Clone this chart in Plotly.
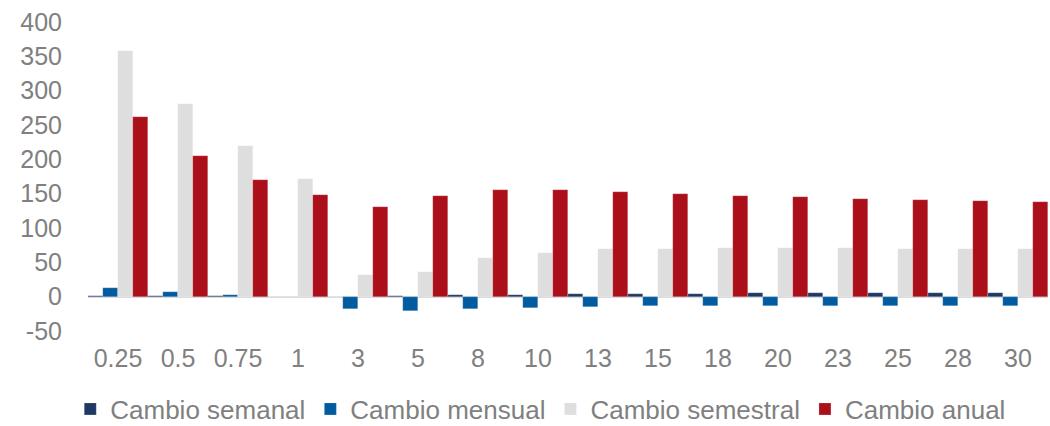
import plotly.graph_objects as go

categories = ["0.25", "0.5", "0.75", "1", "3", "5", "8", "10", "13", "15", "18", "20", "23", "25", "28", "30"]
semanal = [1, 0.5, 0.5, 0, -0.5, 1, 2, 3, 4, 4.5, 4.5, 5, 5, 5, 5, 5]
mensual = [12.5, 7, 2.5, 0, -18, -21, -18, -16.5, -14.5, -14, -13.5, -13, -13, -13, -13, -13]
semestral = [358, 281, 220, 171, 32, 36, 57, 64, 69, 70, 71, 71, 71, 70, 70, 70]
anual = [262, 205, 170, 148, 131, 147, 156, 156, 152, 150, 146, 145, 142, 141, 139, 138]
y_ticks = [-50, 0, 50, 100, 150, 200, 250, 300, 350, 400]
y_tick_labels = ["-50", "0", "50", "100", "150", "200", "250", "300", "350", "400"]

names = ["Cambio semanal", "Cambio mensual", "Cambio semestral", "Cambio anual"]
colors = ["#1f3864", "#005b9f", "#dedede", "#ab0f1a"]
series = [semanal, mensual, semestral, anual]

fig = go.Figure()
for name, color, vals in zip(names, colors, series):
    fig.add_trace(go.Bar(
        x=categories, y=vals, name=name,
        marker=dict(color=color, line=dict(color="rgba(255,255,255,0.4)", width=0.5)),
    ))

tickfont = dict(family="Liberation Sans, Arial, sans-serif", size=25, color="#808080")
legfont = dict(family="Liberation Sans, Arial, sans-serif", size=26, color="#808080")

fig.update_layout(
    width=1050, height=426,
    margin=dict(l=88, r=2, t=22, b=95, autoexpand=False),
    paper_bgcolor="white", plot_bgcolor="white",
    barmode="group", bargap=0, bargroupgap=0,
    font=tickfont,
    showlegend=True,
    legend=dict(orientation="h", x=0.515, xanchor="center", xref="container",
                y=(426 - 409) / 426, yanchor="middle", yref="container",
                font=legfont, itemwidth=30, traceorder="normal"),
)
fig.update_xaxes(
    type="category", showgrid=False, showline=False, zeroline=False,
    ticks="outside", ticklen=5, tickcolor="rgba(0,0,0,0)",
    tickfont=tickfont, automargin=False,
)
fig.update_yaxes(
    range=[-50, 400], tickvals=y_ticks, ticktext=y_tick_labels,
    showgrid=False, showline=False,
    zeroline=True, zerolinecolor="#d9d9d9", zerolinewidth=2,
    ticklabelstandoff=25, tickfont=tickfont, automargin=False,
)

fig.write_html(
    "out.html",
    config={"displayModeBar": False},
    post_script="document.body.style.margin='0';document.body.style.overflow='hidden';",
)
